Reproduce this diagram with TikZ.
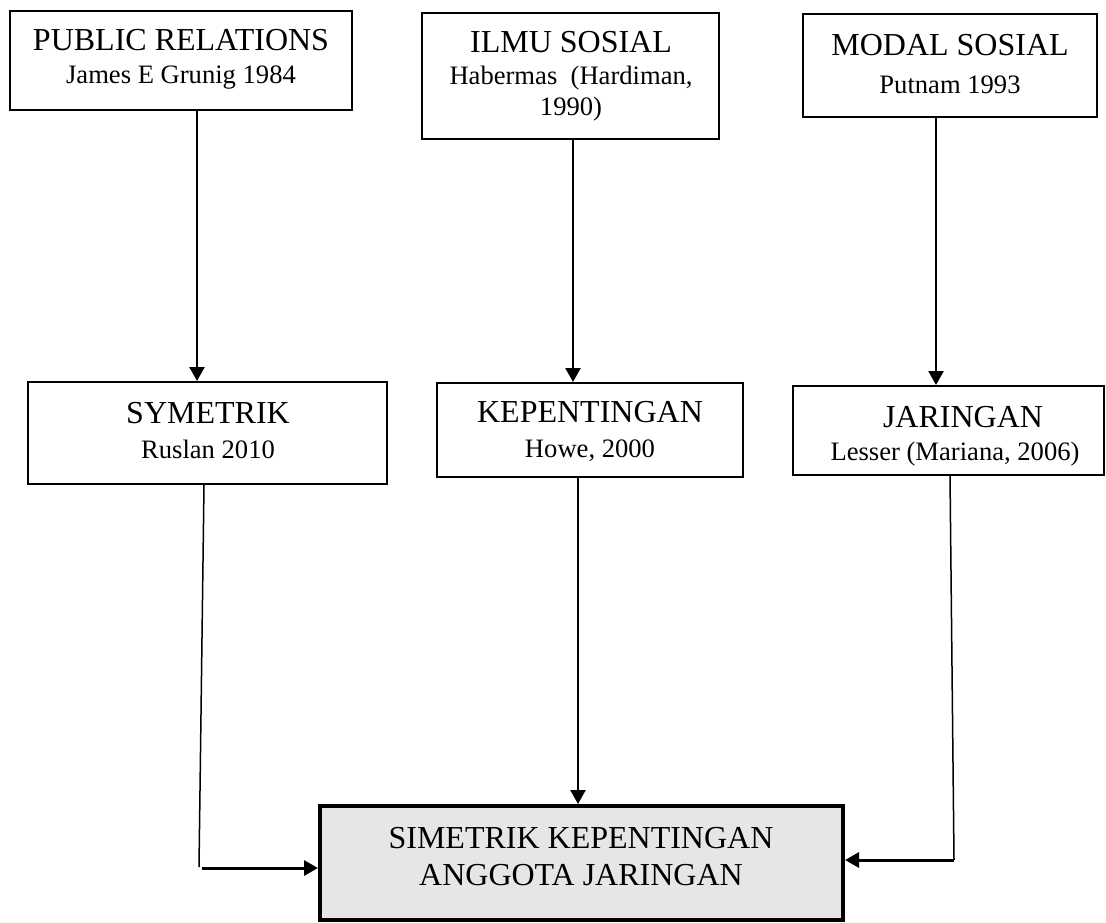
\documentclass[tikz,border=0pt]{standalone}
\usepackage{fontspec}
\setmainfont{Liberation Serif}
\usetikzlibrary{arrows.meta}
\definecolor{boxgray}{HTML}{E6E6E6}
\begin{document}
\begin{tikzpicture}[x=0.5pt,y=-0.5pt,
  box/.style={draw, line width=1pt, rectangle, inner sep=0pt},
  goal/.style={draw, line width=2pt, fill=boxgray, rectangle, inner sep=0pt},
  ttl/.style={anchor=base, inner sep=0pt, font=\fontsize{16}{19}\selectfont},
  sub/.style={anchor=base, inner sep=0pt, font=\fontsize{13.3}{16}\selectfont},
  arr/.style={line width=1.25pt, -{Triangle[length=7pt,width=7.5pt]}},
  harr/.style={line width=1.5pt, -{Triangle[length=7pt,width=7.5pt]}},
  thinline/.style={line width=0.75pt}
]
\useasboundingbox (0,0) rectangle (1106,922);

% source boxes
\node[box, minimum width=171pt, minimum height=49.5pt] (pr) at (181,60.5) {};
\node[box, minimum width=148.5pt, minimum height=63pt] (ilmu) at (570.5,76) {};
\node[box, minimum width=147pt, minimum height=51.5pt] (modal) at (950,65.5) {};

% concept boxes
\node[box, minimum width=179.5pt, minimum height=51pt] (sym) at (207.5,433) {};
\node[box, minimum width=153pt, minimum height=47pt] (kep) at (590,430) {};
\node[box, minimum width=155.5pt, minimum height=44.5pt] (jar) at (948.5,430.5) {};

% result box
\node[goal, minimum width=261.5pt, minimum height=57pt] (res) at (581.5,863) {};

% labels
\node[ttl] (prA) at (181,50) {PUBLIC RELATIONS};
\node[sub] (prB) at (181,83) {James E Grunig 1984};
\node[ttl] (ilA) at (571,52) {ILMU SOSIAL};
\node[sub] (ilB) at (571,84) {Habermas~ (Hardiman,};
\node[sub] (ilC) at (571,115) {1990)};
\node[ttl] (moA) at (950,55) {MODAL SOSIAL};
\node[sub] (moB) at (950,93) {Putnam 1993};
\node[ttl] (syA) at (208,423) {SYMETRIK};
\node[sub] (syB) at (208,458) {Ruslan 2010};
\node[ttl] (keA) at (590,422) {KEPENTINGAN};
\node[sub] (keB) at (590,457) {Howe, 2000};
\node[ttl] (jaA) at (963,427) {JARINGAN};
\node[sub] (jaB) at (955,460) {Lesser (Mariana, 2006)};
\node[ttl] (reA) at (581,848) {SIMETRIK KEPENTINGAN};
\node[ttl] (reB) at (581,885) {ANGGOTA JARINGAN};

% downward arrows, top row to middle row
\coordinate (c1) at (197,0);
\coordinate (c2) at (573,0);
\coordinate (c3) at (936,0);
\draw[arr] (c1 |- pr.south) -- (c1 |- sym.north);
\draw[arr] (c2 |- ilmu.south) -- (c2 |- kep.north);
\draw[arr] (c3 |- modal.south) -- (c3 |- jar.north);

% middle row into the result box
\coordinate (l1) at (204,0);
\coordinate (l2) at (199,867);
\coordinate (l3) at (202,868);
\draw[thinline] (l1 |- sym.south) -- (l2);
\draw[harr] (l3) -- (l3 -| res.west);

\coordinate (m1) at (578,0);
\draw[arr] (m1 |- kep.south) -- (m1 |- res.north);

\coordinate (r1) at (950,0);
\coordinate (r2) at (954,860);
\draw[thinline] (r1 |- jar.south) -- (r2);
\draw[harr] (r2) -- (r2 -| res.east);
\end{tikzpicture}
\end{document}
